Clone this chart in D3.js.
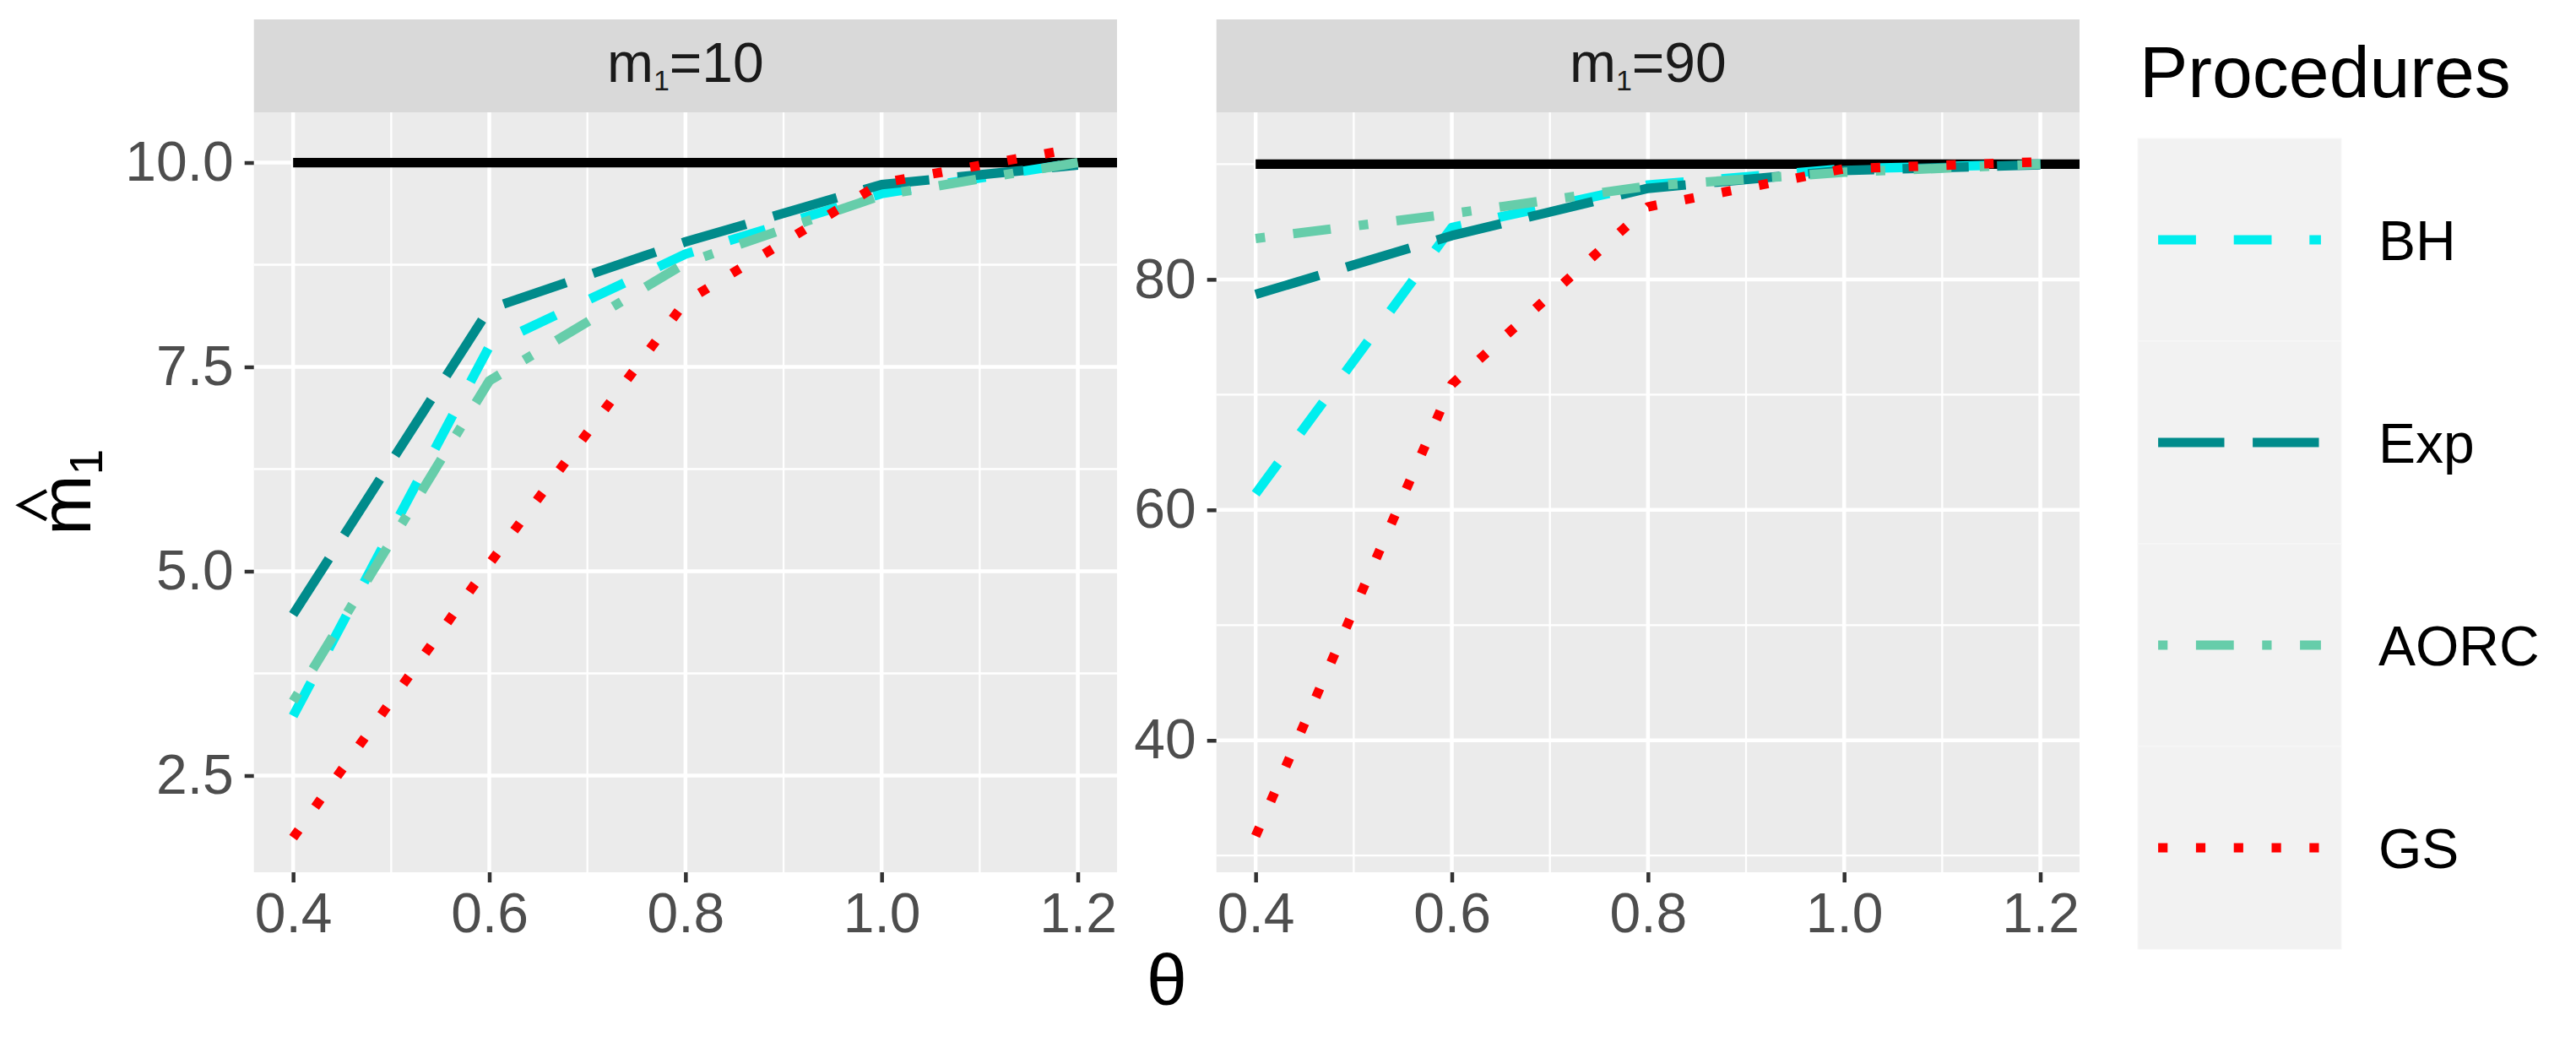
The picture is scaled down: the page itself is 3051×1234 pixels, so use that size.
<!DOCTYPE html>
<html>
<head>
<meta charset="utf-8">
<script src="https://cdn.jsdelivr.net/npm/d3@7"></script>
<style>
  body { margin: 0; background: #fff; }
  svg { display: block; font-family: "Liberation Sans", Arial, sans-serif; }
</style>
</head>
<body>
<svg id="chart"></svg>
<script>
// ---- data ----
const theta = [0.4, 0.6, 0.8, 1.0, 1.2];
const procedures = ['BH', 'Exp', 'AORC', 'GS'];
const m1Values = [10, 90];

const bh10 = [3.23, 7.75, 8.88, 9.62, 10.0];
const exp10 = [4.47, 8.21, 9.03, 9.73, 9.97];
const aorc10 = [3.41, 7.33, 8.77, 9.6, 10.0];
const gs10 = [1.74, 5.09, 8.3, 9.75, 10.18];

const bh90 = [61.4, 84.5, 88.2, 89.6, 90.0];
const exp90 = [78.7, 83.8, 87.9, 89.45, 89.95];
const aorc90 = [83.55, 85.7, 88.1, 89.3, 90.0];
const gs90 = [31.7, 70.9, 86.3, 89.6, 90.2];

const xTicks = [0.4, 0.6, 0.8, 1.0, 1.2];
const xMinor = [0.5, 0.7, 0.9, 1.1];
const yTicks = [[2.5, 5.0, 7.5, 10.0], [40, 60, 80]];
const yMinor = [[3.75, 6.25, 8.75], [30, 50, 70, 90]];

// ---- layout / style ----
const width = 3051;
const height = 1234;
const stripTop = 23;
const panelTop = 133;
const panelBottom = 1033;
const panelLefts = [300.7, 1440.7];
const panelWidth = 1022.3;
const xDomain = [0.36, 1.24];
const yDomains = [[1.317, 10.615], [28.55, 94.5]];
const lwd = 11.2;

const colors = { BH: '#00EEEE', Exp: '#008B8B', AORC: '#66CDAA', GS: '#FF0000' };
const dashes = {
  BH: [4, 4],
  Exp: [7, 3],
  AORC: [1, 3, 4, 3],
  GS: [1, 3],
};
const dashStr = (name) => dashes[name].map((d) => d * lwd).join(',');

const series = [
  { BH: bh10, Exp: exp10, AORC: aorc10, GS: gs10 },
  { BH: bh90, Exp: exp90, AORC: aorc90, GS: gs90 },
];

const svg = d3.select('#chart').attr('width', width).attr('height', height);

const drawPanel = (i) => {
  const left = panelLefts[i];
  const x = d3.scaleLinear().domain(xDomain).range([left, left + panelWidth]);
  const y = d3.scaleLinear().domain(yDomains[i]).range([panelBottom, panelTop]);
  const g = svg.append('g');

  g.append('rect')
    .attr('x', left)
    .attr('y', panelTop)
    .attr('width', panelWidth)
    .attr('height', panelBottom - panelTop)
    .attr('fill', '#EBEBEB');

  // minor grid
  g.selectAll('.xminor')
    .data(xMinor)
    .enter()
    .append('line')
    .attr('x1', (d) => x(d))
    .attr('x2', (d) => x(d))
    .attr('y1', panelTop)
    .attr('y2', panelBottom)
    .attr('stroke', '#fff')
    .attr('stroke-width', 2.3);
  g.selectAll('.yminor')
    .data(yMinor[i])
    .enter()
    .append('line')
    .attr('x1', left)
    .attr('x2', left + panelWidth)
    .attr('y1', (d) => y(d))
    .attr('y2', (d) => y(d))
    .attr('stroke', '#fff')
    .attr('stroke-width', 2.3);

  // major grid
  g.selectAll('.xmajor')
    .data(xTicks)
    .enter()
    .append('line')
    .attr('x1', (d) => x(d))
    .attr('x2', (d) => x(d))
    .attr('y1', panelTop)
    .attr('y2', panelBottom)
    .attr('stroke', '#fff')
    .attr('stroke-width', 4.5);
  g.selectAll('.ymajor')
    .data(yTicks[i])
    .enter()
    .append('line')
    .attr('x1', left)
    .attr('x2', left + panelWidth)
    .attr('y1', (d) => y(d))
    .attr('y2', (d) => y(d))
    .attr('stroke', '#fff')
    .attr('stroke-width', 4.5);

  // reference line at the true m1
  g.append('line')
    .attr('x1', x(theta[0]))
    .attr('x2', x(xDomain[1]))
    .attr('y1', y(m1Values[i]))
    .attr('y2', y(m1Values[i]))
    .attr('stroke', '#000')
    .attr('stroke-width', lwd);

  const line = d3
    .line()
    .x((d, k) => x(theta[k]))
    .y((d) => y(d));

  procedures.forEach((p) => {
    g.append('path')
      .datum(series[i][p])
      .attr('d', line)
      .attr('fill', 'none')
      .attr('stroke', colors[p])
      .attr('stroke-width', lwd)
      .attr('stroke-dasharray', dashStr(p))
      .attr('stroke-linecap', 'butt')
      .attr('stroke-linejoin', 'round');
  });

  // strip
  g.append('rect')
    .attr('x', left)
    .attr('y', stripTop)
    .attr('width', panelWidth)
    .attr('height', panelTop - stripTop)
    .attr('fill', '#D9D9D9');
  const st = g
    .append('text')
    .attr('x', left + panelWidth / 2)
    .attr('y', 96.7)
    .attr('text-anchor', 'middle')
    .attr('font-size', 66)
    .attr('fill', '#1A1A1A');
  st.append('tspan').text('m');
  st.append('tspan').attr('font-size', 34).attr('dy', 10.5).text('1');
  st.append('tspan').attr('dy', -10.5).text('=' + m1Values[i]);

  // axes
  const fmt = i === 0 ? d3.format('.1f') : d3.format('d');
  const yAxis = d3.axisLeft(y).tickValues(yTicks[i]).tickSize(11).tickPadding(13).tickFormat(fmt);
  const xAxis = d3.axisBottom(x).tickValues(xTicks).tickSize(12).tickPadding(12).tickFormat(d3.format('.1f'));

  const ya = g.append('g').attr('transform', 'translate(' + left + ',0)').call(yAxis);
  const xa = g.append('g').attr('transform', 'translate(0,' + panelBottom + ')').call(xAxis);
  [ya, xa].forEach((a) => {
    a.select('.domain').remove();
    a.selectAll('line').attr('stroke', '#333333').attr('stroke-width', 4.5);
    a.selectAll('text')
      .attr('font-size', 66)
      .attr('fill', '#4D4D4D')
      .attr('font-family', '"Liberation Sans", Arial, sans-serif');
  });
};

drawPanel(0);
drawPanel(1);

// x axis title
svg.append('text')
  .attr('x', (panelLefts[0] + panelLefts[1] + panelWidth) / 2)
  .attr('y', 1190)
  .attr('text-anchor', 'middle')
  .attr('font-size', 86)
  .attr('fill', '#000')
  .text('θ');

// y axis title: m-hat with subscript 1
const yt = svg.append('g').attr('transform', 'translate(107,583) rotate(-90)');
const ytText = yt.append('text').attr('font-size', 86).attr('fill', '#000');
const mSpan = ytText.append('tspan').text('m');
ytText.append('tspan').attr('font-size', 55).attr('dy', 14).text('1');
const totalLen = ytText.node().getComputedTextLength();
const mLen = mSpan.node().getComputedTextLength();
ytText.attr('x', -totalLen / 2);
const hatC = -totalLen / 2 + mLen / 2;
yt.append('path')
  .attr('d', 'M' + (hatC - 17) + ',-52L' + hatC + ',-84L' + (hatC + 17) + ',-52')
  .attr('fill', 'none')
  .attr('stroke', '#000')
  .attr('stroke-width', 4.5);

// legend
const legendX = 2532;
const legendTop = 164;
const keySize = 240;
const keyWidth = 241;

svg.append('text')
  .attr('x', 2534)
  .attr('y', 115)
  .attr('font-size', 86)
  .attr('fill', '#000')
  .text('Procedures');

const keys = svg
  .selectAll('.key')
  .data(procedures)
  .enter()
  .append('g')
  .attr('transform', (d, k) => 'translate(' + legendX + ',' + (legendTop + k * keySize) + ')');

keys.append('rect')
  .attr('width', keyWidth)
  .attr('height', keySize)
  .attr('fill', '#F2F2F2')
  .attr('stroke', '#F7F7F7')
  .attr('stroke-width', 1);

keys.append('line')
  .attr('x1', keyWidth * 0.1)
  .attr('x2', keyWidth * 0.9)
  .attr('y1', keySize / 2)
  .attr('y2', keySize / 2)
  .attr('stroke', (d) => colors[d])
  .attr('stroke-width', lwd)
  .attr('stroke-dasharray', (d) => dashStr(d));

keys.append('text')
  .attr('x', 2817 - legendX)
  .attr('y', keySize / 2 + 24)
  .attr('font-size', 66)
  .attr('fill', '#000')
  .text((d) => d);
</script>
</body>
</html>
